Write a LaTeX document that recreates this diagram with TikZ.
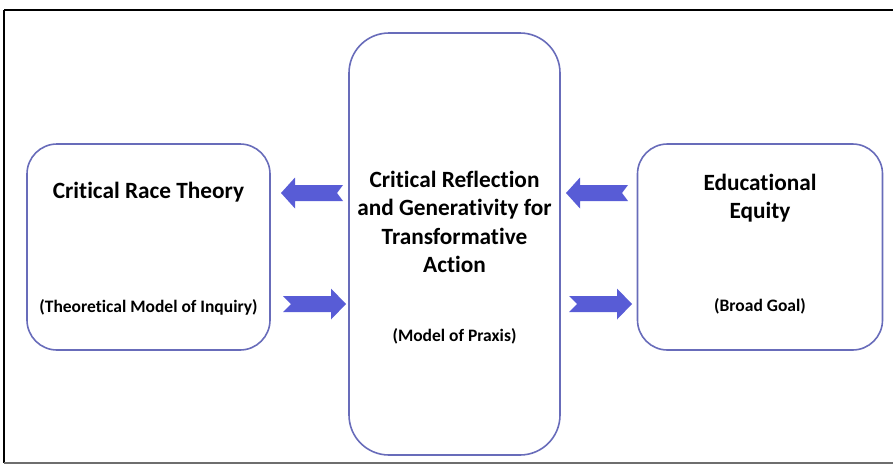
\documentclass[tikz,border=0pt]{standalone}
\usepackage{fontspec}
\setmainfont{Carlito}[Ligatures=NoCommon]
\definecolor{arrowblue}{RGB}{88,92,214}
\definecolor{boxline}{RGB}{104,108,186}
\definecolor{framegray}{RGB}{110,110,110}
\newcommand{\blockarrowL}[3]{% tip x, center y, name
  \fill[arrowblue] (#1,#2) -- ++(14,-15.5) -- ++(0,7.5) -- ++(48,0) -- ++(-6,8) -- ++(6,8) -- ++(-48,0) -- ++(0,7.5) -- cycle;}
\newcommand{\blockarrowR}[3]{% tip x, center y, name
  \fill[arrowblue] (#1,#2) -- ++(-15,-15.5) -- ++(0,7.5) -- ++(-48,0) -- ++(8,8) -- ++(-8,8) -- ++(48,0) -- ++(0,7.5) -- cycle;}
\begin{document}
\begin{tikzpicture}[x=1pt,y=-1pt,
  box/.style={draw=boxline,line width=1.6pt,fill=white,inner sep=0pt},
  title/.style={font=\bfseries\fontsize{23.3}{28.5}\selectfont,align=center,inner sep=0pt},
  sub/.style={font=\bfseries\fontsize{17.5}{20}\selectfont,align=center,inner sep=0pt}]
\useasboundingbox (0,0) rectangle (893,466);
% frame
\draw[black,line width=2pt] (4,10) -- (894,10);
\draw[black,line width=1.5pt] (4,10) -- (4,463);
\draw[framegray,line width=1.5pt] (4,463) -- (894,463);
% boxes
\node[box,rounded corners=30pt,minimum width=243pt,minimum height=206pt] (crt) at (148.5,247) {};
\node[box,rounded corners=40pt,minimum width=211pt,minimum height=422pt] (crg) at (454.5,244) {};
\node[box,rounded corners=30pt,minimum width=245pt,minimum height=206pt] (eq) at (760,247) {};
% texts
\node[title,anchor=base] (crtT) at (148.5,198) {Critical Race Theory};
\node[sub] (crtS) at (148.5,307) {(Theoretical Model of Inquiry)};
\node[title] (crgT) at (454.5,222) {Critical Reflection\\and Generativity for\\Transformative\\Action};
\node[sub] (crgS) at (454.5,336) {(Model of Praxis)};
\node[title] (eqT) at (760,198) {Educational\\Equity};
\node[sub] (eqS) at (760,306) {(Broad Goal)};
% arrows
\blockarrowL{281}{193}{a1}
\blockarrowR{346}{304}{a2}
\blockarrowL{566}{193}{a3}
\blockarrowR{632}{304}{a4}
\end{tikzpicture}
\end{document}
